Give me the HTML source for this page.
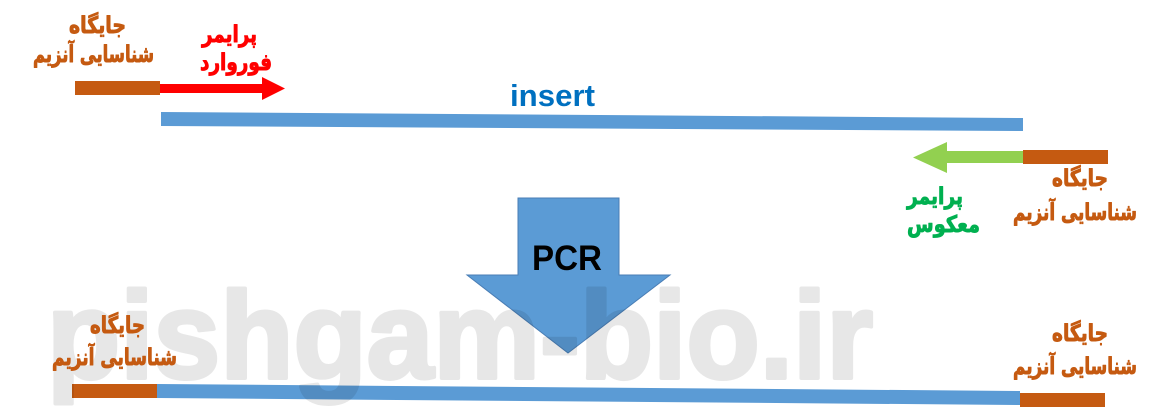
<!DOCTYPE html>
<html>
<head>
<meta charset="utf-8">
<style>
html,body{margin:0;padding:0;background:#fff;}
body{width:1170px;height:407px;overflow:hidden;}
svg{display:block;}
.fa{font-family:"DejaVu Sans","Liberation Sans",sans-serif;font-weight:bold;font-size:23px;stroke-width:0.9px;stroke-linejoin:round;}
.br{fill:#C55A11;stroke:#C55A11;}
.rd{fill:#FF0000;stroke:#FF0000;}
.gr{fill:#00B050;stroke:#00B050;}
</style>
</head>
<body>
<svg width="1170" height="407" viewBox="0 0 1170 407" xmlns="http://www.w3.org/2000/svg">
  <!-- top insert line -->
  <polygon points="161,112 1023,118 1023,131 161,126" fill="#5B9BD5"/>
  <!-- top-left orange site -->
  <rect x="75" y="81" width="85" height="14" fill="#C55A11"/>
  <!-- red forward primer arrow -->
  <polygon points="160,84 262,84 262,77 285,88.5 262,100 262,93 160,93" fill="#FF0000"/>
  <!-- green reverse primer arrow -->
  <polygon points="1023,151 947,151 947,142 913,157.5 947,173 947,163 1023,163" fill="#92D050"/>
  <!-- top-right orange site -->
  <rect x="1023" y="150" width="85" height="14" fill="#C55A11"/>

  <!-- bottom product -->
  <polygon points="157,384 1020,391 1020,405 157,398" fill="#5B9BD5"/>
  <rect x="72" y="384" width="85" height="14" fill="#C55A11"/>
  <rect x="1020" y="393" width="85" height="14" fill="#C55A11"/>

  <!-- PCR arrow -->
  <polygon points="518,198 619,198 619,275 670,275 568,353 467,275 518,275" fill="#5B9BD5" stroke="#4A7EB5" stroke-width="1"/>
  <text x="567" y="270" text-anchor="middle" textLength="70" lengthAdjust="spacingAndGlyphs" font-family="Liberation Sans, sans-serif" font-weight="bold" font-size="35" fill="#000">PCR</text>

  <!-- insert label -->
  <text x="552.5" y="106" text-anchor="middle" textLength="85" lengthAdjust="spacingAndGlyphs" font-family="Liberation Sans, sans-serif" font-weight="bold" font-size="31" fill="#0070C0">insert</text>

  <!-- watermark -->
  <g opacity="0.09">
    <text x="47" y="378" textLength="826" lengthAdjust="spacingAndGlyphs" font-family="Liberation Sans, sans-serif" font-weight="bold" font-size="123" fill="#000" stroke="#000" stroke-width="4" stroke-linejoin="round">pishgam-bio.ir</text>
  </g>

  <!-- Persian labels -->
  <!-- top-left -->
  <text class="fa br" x="97.5" y="33" text-anchor="middle" textLength="57" lengthAdjust="spacingAndGlyphs">جایگاه</text>
  <text class="fa br" x="93.5" y="62" text-anchor="middle" textLength="121" lengthAdjust="spacingAndGlyphs">شناسایی آنزیم</text>
  <!-- red forward primer -->
  <text class="fa rd" x="229.5" y="42" text-anchor="middle" textLength="55" lengthAdjust="spacingAndGlyphs">پرایمر</text>
  <text class="fa rd" x="236" y="70" text-anchor="middle" textLength="72" lengthAdjust="spacingAndGlyphs">فوروارد</text>
  <!-- top-right -->
  <text class="fa br" x="1080" y="186" text-anchor="middle" textLength="56" lengthAdjust="spacingAndGlyphs">جایگاه</text>
  <text class="fa br" x="1075" y="220" text-anchor="middle" textLength="124" lengthAdjust="spacingAndGlyphs">شناسایی آنزیم</text>
  <!-- green reverse primer -->
  <text class="fa gr" x="935" y="204" text-anchor="middle" textLength="56" lengthAdjust="spacingAndGlyphs">پرایمر</text>
  <text class="fa gr" x="943.5" y="232" text-anchor="middle" textLength="73" lengthAdjust="spacingAndGlyphs">معکوس</text>
  <!-- bottom-left -->
  <text class="fa br" x="117.5" y="333" text-anchor="middle" textLength="55" lengthAdjust="spacingAndGlyphs">جایگاه</text>
  <text class="fa br" x="114.5" y="365" text-anchor="middle" textLength="125" lengthAdjust="spacingAndGlyphs">شناسایی آنزیم</text>
  <!-- bottom-right -->
  <text class="fa br" x="1080" y="341" text-anchor="middle" textLength="56" lengthAdjust="spacingAndGlyphs">جایگاه</text>
  <text class="fa br" x="1075" y="374" text-anchor="middle" textLength="124" lengthAdjust="spacingAndGlyphs">شناسایی آنزیم</text>
</svg>
</body>
</html>
